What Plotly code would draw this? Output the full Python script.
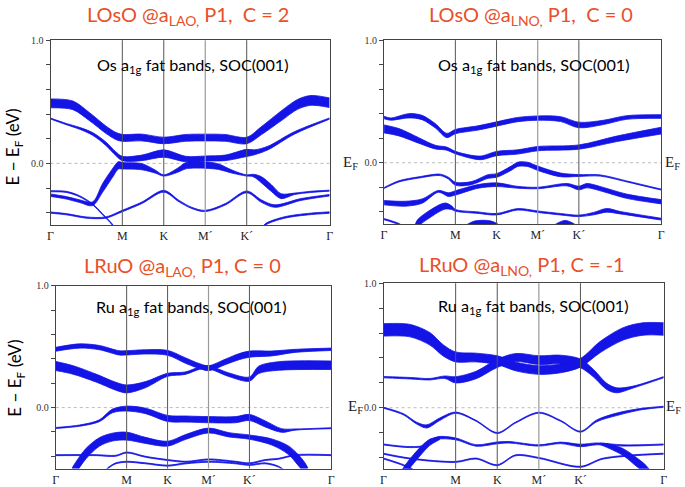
import plotly.graph_objects as go

W, H = 685, 487
BLUE = '#1414E6'
TITLE_RED = '#E8502A'

# ---------------- axes data ----------------
KPTS = [0, 0.866, 1.366, 1.866, 2.366, 3.366]
KLABELS = ['Γ', 'M', 'K', 'M´', 'K´', 'Γ']
YLABEL_VALS = [0.0, 1.0]
YLABEL_TEXT = ['0.0', '1.0']
YMINOR = [-0.4, -0.2, 0.2, 0.4, 0.6, 0.8]

TITLES = ['LOsO @a<sub>LAO,</sub> P1,  C = 2', 'LOsO @a<sub>LNO,</sub> P1,  C = 0',
          'LRuO @a<sub>LAO,</sub> P1, C = 0', 'LRuO @a<sub>LNO,</sub> P1, C = -1']
SUBTITLES = ['Os a<sub>1g</sub> fat bands, SOC(001)', 'Os a<sub>1g</sub> fat bands, SOC(001)',
             'Ru a<sub>1g</sub> fat bands, SOC(001)', 'Ru a<sub>1g</sub> fat bands, SOC(001)']

# ---------------- panel 1 : LOsO @aLAO ----------------
P1_A_K = [0, 0.27, 0.468, 0.667, 0.786, 0.866, 1.103, 1.366, 1.631, 1.866, 2.107, 2.366, 2.544, 2.782, 2.98, 3.139, 3.366]
P1_A_E = [0.487, 0.471, 0.38, 0.274, 0.223, 0.207, 0.21, 0.186, 0.207, 0.21, 0.207, 0.186, 0.266, 0.386, 0.479, 0.511, 0.492]
P1_A_W = [0.072, 0.07, 0.065, 0.06, 0.058, 0.056, 0.055, 0.053, 0.055, 0.055, 0.055, 0.053, 0.065, 0.08, 0.08, 0.08, 0.078]

P1_B_K = [0, 0.19, 0.349, 0.508, 0.667, 0.786, 0.866, 1.103, 1.366, 1.631, 1.866, 2.107, 2.366, 2.46, 2.623, 2.94, 3.366]
P1_B_E = [0.364, 0.319, 0.285, 0.239, 0.16, 0.08, 0.04, 0.045, 0.08, 0.035, 0.04, 0.045, 0.085, 0.09, 0.125, 0.247, 0.364]
P1_B_W = [0.008, 0.01, 0.015, 0.022, 0.028, 0.03, 0.035, 0.045, 0.06, 0.045, 0.04, 0.045, 0.058, 0.04, 0.03, 0.02, 0.01]

P1_C_K = [0, 0.19, 0.349, 0.508, 0.627, 0.746, 0.82, 0.866, 1.103, 1.262, 1.366, 1.54, 1.631, 1.866, 2.028, 2.187, 2.366, 2.444, 2.544, 2.663, 2.782, 2.94, 3.139, 3.366]
P1_C_E = [-0.258, -0.279, -0.306, -0.327, -0.2, -0.08, -0.015, -0.019, -0.027, -0.066, -0.098, -0.053, -0.019, -0.013, -0.027, -0.066, -0.098, -0.098, -0.133, -0.2, -0.266, -0.247, -0.231, -0.221]
P1_C_W = [0.02, 0.02, 0.022, 0.03, 0.07, 0.07, 0.06, 0.053, 0.05, 0.025, 0.01, 0.035, 0.05, 0.053, 0.045, 0.025, 0.01, 0.02, 0.05, 0.055, 0.04, 0.012, 0.01, 0.008]

P1_D_K = [0, 0.19, 0.429, 0.667, 0.866, 1.103, 1.366, 1.55, 1.7, 1.866, 2.107, 2.366, 2.544, 2.702, 3.02, 3.366]
P1_D_E = [-0.399, -0.412, -0.439, -0.439, -0.386, -0.319, -0.226, -0.306, -0.36, -0.386, -0.332, -0.231, -0.306, -0.346, -0.293, -0.258]
P1_D_W = [0.01, 0.01, 0.01, 0.01, 0.012, 0.012, 0.015, 0.012, 0.01, 0.01, 0.012, 0.015, 0.02, 0.02, 0.015, 0.012]

P1_E_K = [0, 0.19, 0.349, 0.508, 0.627, 0.746, 0.8]
P1_E_E = [-0.226, -0.231, -0.266, -0.332, -0.412, -0.497, -0.56]
P1_E_W = 0.009

P1_F_K = [2.52, 2.587, 2.821, 3.1, 3.366]
P1_F_E = [-0.56, -0.497, -0.439, -0.412, -0.399]
P1_F_W = 0.012

# ---------------- panel 2 : LOsO @aLNO ----------------
P2_A_K = [0, 0.08, 0.301, 0.461, 0.621, 0.762, 0.866, 1.142, 1.366, 1.623, 1.866, 2.144, 2.366, 2.665, 2.946, 3.366]
P2_A_E = [0.369, 0.356, 0.383, 0.369, 0.302, 0.222, 0.254, 0.284, 0.316, 0.352, 0.364, 0.356, 0.308, 0.329, 0.369, 0.377]
P2_A_W = [0.02, 0.018, 0.035, 0.035, 0.035, 0.035, 0.035, 0.035, 0.035, 0.035, 0.035, 0.04, 0.045, 0.035, 0.03, 0.03]

P2_B_K = [0, 0.18, 0.421, 0.621, 0.762, 0.866, 1.062, 1.182, 1.366, 1.623, 1.866, 2.366, 2.826, 3.366]
P2_B_E = [0.276, 0.249, 0.182, 0.128, 0.115, 0.083, 0.048, 0.04, 0.075, 0.088, 0.115, 0.128, 0.195, 0.262]
P2_B_W = [0.065, 0.06, 0.045, 0.03, 0.025, 0.02, 0.025, 0.03, 0.035, 0.035, 0.035, 0.035, 0.045, 0.055]

P2_C_K = [0, 0.18, 0.421, 0.681, 0.782, 0.866, 1.062, 1.263, 1.366, 1.543, 1.623, 1.743, 1.866, 2.144, 2.366, 2.625, 2.946, 3.366]
P2_C_E = [-0.206, -0.152, -0.12, -0.099, -0.126, -0.171, -0.166, -0.112, -0.104, -0.045, -0.013, -0.013, -0.045, -0.099, -0.104, -0.104, -0.152, -0.219]
P2_C_W = [0.008, 0.01, 0.01, 0.012, 0.015, 0.025, 0.025, 0.03, 0.03, 0.035, 0.035, 0.035, 0.035, 0.03, 0.015, 0.01, 0.008, 0.008]

P2_D_K = [0, 0.26, 0.461, 0.661, 0.782, 0.866, 1.142, 1.366, 1.623, 1.866, 2.224, 2.366, 2.465, 2.665, 2.946, 3.366]
P2_D_E = [-0.326, -0.334, -0.313, -0.233, -0.26, -0.246, -0.193, -0.179, -0.2, -0.206, -0.179, -0.206, -0.187, -0.219, -0.273, -0.318]
P2_D_W = [0.035, 0.04, 0.035, 0.015, 0.03, 0.035, 0.03, 0.03, 0.015, 0.012, 0.02, 0.03, 0.035, 0.035, 0.035, 0.035]

P2_E_K = [0.37, 0.401, 0.581, 0.741, 0.822, 0.866, 1.142, 1.366, 1.623, 1.866, 2.144, 2.366, 2.545, 2.705, 2.866, 3.366]
P2_E_E = [-0.56, -0.5, -0.407, -0.353, -0.367, -0.388, -0.407, -0.42, -0.38, -0.399, -0.42, -0.433, -0.415, -0.388, -0.407, -0.46]
P2_E_W = [0.06, 0.06, 0.06, 0.05, 0.03, 0.015, 0.012, 0.012, 0.012, 0.012, 0.012, 0.012, 0.02, 0.03, 0.02, 0.015]

P2_F_K = [0, 0.18, 0.25]
P2_F_E = [-0.46, -0.5, -0.53]
P2_F_W = 0.01

P2_G_K = [0.98, 1.1, 1.3, 1.42]
P2_G_E = [-0.53, -0.49, -0.49, -0.53]
P2_G_W = 0.03

P2_H_K = [2.05, 2.2, 2.35]
P2_H_E = [-0.53, -0.485, -0.53]
P2_H_W = 0.03

# ---------------- panel 3 : LRuO @aLAO ----------------
P3_A_K = [0, 0.29, 0.532, 0.774, 0.866, 1.096, 1.366, 1.59, 1.753, 1.866, 2.076, 2.237, 2.366, 2.64, 2.922, 3.366]
P3_A_E = [0.478, 0.505, 0.492, 0.449, 0.449, 0.457, 0.449, 0.384, 0.341, 0.323, 0.376, 0.417, 0.438, 0.444, 0.465, 0.478]
P3_A_W = [0.032, 0.035, 0.035, 0.035, 0.035, 0.035, 0.04, 0.045, 0.04, 0.04, 0.045, 0.05, 0.05, 0.04, 0.025, 0.02]

P3_B_K = [0, 0.21, 0.492, 0.734, 0.866, 1.096, 1.366, 1.58, 1.753, 1.866, 2.116, 2.366, 2.479, 2.72, 3.366]
P3_B_E = [0.341, 0.309, 0.242, 0.175, 0.153, 0.188, 0.269, 0.282, 0.323, 0.331, 0.269, 0.234, 0.309, 0.341, 0.347]
P3_B_W = [0.075, 0.07, 0.065, 0.065, 0.065, 0.05, 0.025, 0.02, 0.02, 0.025, 0.03, 0.035, 0.06, 0.07, 0.07]

P3_C_K = [0, 0.29, 0.532, 0.693, 0.866, 1.096, 1.366, 1.592, 1.866, 2.197, 2.366, 2.559, 2.76, 2.922, 3.366]
P3_C_E = [-0.167, -0.148, -0.108, -0.027, -0.008, -0.027, -0.089, -0.094, -0.099, -0.099, -0.081, -0.134, -0.188, -0.18, -0.169]
P3_C_W = [0.008, 0.01, 0.015, 0.03, 0.04, 0.045, 0.05, 0.05, 0.05, 0.05, 0.05, 0.05, 0.03, 0.01, 0.008]

P3_D_K = [0.2, 0.24, 0.371, 0.532, 0.693, 0.866, 1.096, 1.366, 1.59, 1.866, 2.116, 2.366, 2.64, 2.842, 2.962, 3.043, 3.08]
P3_D_E = [-0.54, -0.497, -0.376, -0.282, -0.242, -0.234, -0.269, -0.296, -0.24, -0.188, -0.223, -0.242, -0.282, -0.349, -0.43, -0.497, -0.54]
P3_D_W = [0.09, 0.09, 0.085, 0.07, 0.065, 0.065, 0.05, 0.04, 0.04, 0.04, 0.035, 0.035, 0.05, 0.07, 0.09, 0.09, 0.09]

P3_E_K = [0, 0.5, 0.734, 0.866, 1.096, 1.366, 1.592, 1.866, 2.197, 2.366, 2.559, 2.72, 2.922, 3.366]
P3_E_E = [-0.39, -0.39, -0.395, -0.368, -0.403, -0.43, -0.444, -0.425, -0.444, -0.457, -0.43, -0.42, -0.39, -0.39]
P3_E_W = 0.008

P3_F_K = [0.6, 0.65, 0.734, 0.866, 1.096, 1.366, 1.592, 1.866, 2.197, 2.366, 2.559, 2.72, 2.8]
P3_F_E = [-0.52, -0.49, -0.457, -0.444, -0.457, -0.476, -0.457, -0.444, -0.457, -0.47, -0.457, -0.484, -0.52]
P3_F_W = 0.008

# ---------------- panel 4 : LRuO @aLNO ----------------
P4_A_K = [0, 0.319, 0.557, 0.715, 0.866, 1.112, 1.366, 1.6, 1.866, 2.127, 2.366, 2.602, 2.879, 3.117, 3.366]
P4_A_E = [0.625, 0.619, 0.553, 0.461, 0.408, 0.403, 0.382, 0.329, 0.303, 0.316, 0.361, 0.487, 0.593, 0.632, 0.632]
P4_A_W = [0.1, 0.1, 0.1, 0.09, 0.08, 0.07, 0.07, 0.07, 0.07, 0.07, 0.07, 0.09, 0.1, 0.1, 0.1]

P4_B_K = [0, 0.319, 0.557, 0.735, 0.866, 1.112, 1.366, 1.587, 1.866, 2.127, 2.366, 2.523, 2.682, 2.801, 3.0, 3.366]
P4_B_E = [0.245, 0.237, 0.229, 0.245, 0.224, 0.263, 0.356, 0.403, 0.382, 0.387, 0.356, 0.277, 0.171, 0.14, 0.166, 0.245]
P4_B_W = [0.01, 0.012, 0.012, 0.02, 0.05, 0.06, 0.065, 0.065, 0.07, 0.07, 0.07, 0.06, 0.05, 0.04, 0.015, 0.01]

P4_C_K = [0, 0.24, 0.399, 0.517, 0.676, 0.866, 1.112, 1.366, 1.587, 1.866, 2.127, 2.366, 2.562, 2.801, 3.078, 3.366]
P4_C_E = [0.0, -0.053, -0.124, -0.15, -0.092, -0.04, -0.105, -0.203, -0.119, -0.04, -0.105, -0.192, -0.105, -0.053, -0.013, 0.008]
P4_C_W = [0.008, 0.01, 0.015, 0.025, 0.02, 0.01, 0.008, 0.008, 0.008, 0.008, 0.008, 0.008, 0.015, 0.02, 0.012, 0.008]

P4_D_K = [0, 0.319, 0.517, 0.636, 0.866, 1.112, 1.366, 1.508, 1.866, 2.127, 2.366, 2.562, 2.879, 3.366]
P4_D_E = [-0.295, -0.316, -0.303, -0.245, -0.25, -0.303, -0.282, -0.277, -0.303, -0.282, -0.303, -0.29, -0.303, -0.295]
P4_D_W = [0.008, 0.008, 0.01, 0.02, 0.015, 0.012, 0.015, 0.012, 0.01, 0.012, 0.02, 0.015, 0.01, 0.008]

P4_E_K = [0, 0.319, 0.866, 1.112, 1.366, 1.587, 1.866, 2.366, 2.642, 3.366]
P4_E_E = [-0.369, -0.408, -0.435, -0.408, -0.461, -0.382, -0.403, -0.474, -0.408, -0.369]
P4_E_W = 0.008

P4_F_K = [0.2, 0.24, 0.399, 0.557, 0.676]
P4_F_E = [-0.56, -0.514, -0.382, -0.277, -0.245]
P4_F_W = [0.07, 0.07, 0.07, 0.05, 0.02]

P4_G_K = [2.6, 2.682, 2.879, 3.038, 3.157, 3.2]
P4_G_E = [-0.29, -0.303, -0.356, -0.435, -0.5, -0.54]
P4_G_W = [0.01, 0.03, 0.055, 0.07, 0.07, 0.07]

P4_H_K = [0, 0.24, 0.36, 0.4]
P4_H_E = [-0.408, -0.461, -0.5, -0.53]
P4_H_W = 0.008

PANEL_BANDS = [
    [(P1_A_K, P1_A_E, P1_A_W), (P1_B_K, P1_B_E, P1_B_W), (P1_C_K, P1_C_E, P1_C_W),
     (P1_D_K, P1_D_E, P1_D_W), (P1_E_K, P1_E_E, P1_E_W), (P1_F_K, P1_F_E, P1_F_W)],
    [(P2_A_K, P2_A_E, P2_A_W), (P2_B_K, P2_B_E, P2_B_W), (P2_C_K, P2_C_E, P2_C_W),
     (P2_D_K, P2_D_E, P2_D_W), (P2_E_K, P2_E_E, P2_E_W), (P2_F_K, P2_F_E, P2_F_W),
     (P2_G_K, P2_G_E, P2_G_W), (P2_H_K, P2_H_E, P2_H_W)],
    [(P3_A_K, P3_A_E, P3_A_W), (P3_B_K, P3_B_E, P3_B_W), (P3_C_K, P3_C_E, P3_C_W),
     (P3_D_K, P3_D_E, P3_D_W), (P3_E_K, P3_E_E, P3_E_W), (P3_F_K, P3_F_E, P3_F_W)],
    [(P4_A_K, P4_A_E, P4_A_W), (P4_B_K, P4_B_E, P4_B_W), (P4_C_K, P4_C_E, P4_C_W),
     (P4_D_K, P4_D_E, P4_D_W), (P4_E_K, P4_E_E, P4_E_W), (P4_F_K, P4_F_E, P4_F_W),
     (P4_G_K, P4_G_E, P4_G_W), (P4_H_K, P4_H_E, P4_H_W)],
]

# panel geometry in pixels (left, right, top, bottom) and y ranges
PANEL_PX = [(48, 330, 34.7, 222.7), (385, 665, 34.7, 221.7),
            (53.3, 331.7, 284.3, 470.3), (384.5, 667.5, 281.8, 470.5)]
YRANGES = [(-0.5, 1.0), (-0.5, 1.0), (-0.5, 1.0), (-0.49, 1.0)]

fig = go.Figure()

for i, bands in enumerate(PANEL_BANDS):
    xa = 'x' if i == 0 else 'x%d' % (i + 1)
    ya = 'y' if i == 0 else 'y%d' % (i + 1)
    for k, e, w in bands:
        ws = w if isinstance(w, list) else [w] * len(k)
        up = [a + b / 2 for a, b in zip(e, ws)]
        lo = [a - b / 2 for a, b in zip(e, ws)]
        ln = dict(color=BLUE, width=0.8, shape='spline', smoothing=0.9)
        fig.add_trace(go.Scatter(x=k, y=up, mode='lines', line=ln, xaxis=xa, yaxis=ya,
                                 hoverinfo='skip', showlegend=False))
        fig.add_trace(go.Scatter(x=k, y=lo, mode='lines', line=ln, fill='tonexty',
                                 fillcolor=BLUE, xaxis=xa, yaxis=ya,
                                 hoverinfo='skip', showlegend=False))

layout = dict(width=W, height=H, margin=dict(l=0, r=0, t=0, b=0),
              paper_bgcolor='white', plot_bgcolor='white', showlegend=False)
shapes = []
annotations = []
for i, (l, r, t, b) in enumerate(PANEL_PX):
    sx = '' if i == 0 else str(i + 1)
    layout['xaxis' + sx] = dict(domain=[l / W, r / W], range=[0, 3.366], anchor='y' + sx,
                                tickvals=KPTS, ticktext=KLABELS, ticks='', showgrid=False,
                                zeroline=False, showline=True, mirror=True, linecolor='#444',
                                linewidth=1, tickfont=dict(family='Liberation Serif', size=12, color='#222'))
    layout['yaxis' + sx] = dict(domain=[1 - b / H, 1 - t / H], range=list(YRANGES[i]), anchor='x' + sx,
                                tickvals=YLABEL_VALS, ticktext=YLABEL_TEXT, ticks='outside', ticklen=4,
                                tickcolor='#444', showgrid=False, zeroline=False, showline=True,
                                mirror=True, linecolor='#444', linewidth=1,
                                minor=dict(tickvals=YMINOR, ticks='outside', ticklen=4, tickcolor='#444',
                                           showgrid=False),
                                tickfont=dict(family='Liberation Serif', size=10, color='#333'))
    xref = 'x' + sx
    yd = ('y' + sx) + ' domain'
    for j, kv in enumerate(KPTS[1:-1]):
        col = '#9a9a9a' if KLABELS[j + 1] == 'M´' else '#555'
        shapes.append(dict(type='line', xref=xref, yref=yd, x0=kv, x1=kv, y0=0, y1=1,
                           line=dict(color=col, width=1.2 if col == '#9a9a9a' else 1)))
    shapes.append(dict(type='line', xref=xref, yref='y' + sx, x0=0, x1=3.366, y0=0, y1=0,
                       line=dict(color='#aaaaaa', width=0.8, dash='dot'), layer='below'))

# titles
TITLE_POS = [(83, 10), (428, 10), (80, 265), (418, 264)]
SUB_POS = [(93, 60), (437, 60), (92, 307), (437, 306)]
for i in range(4):
    annotations.append(dict(text=TITLES[i], x=TITLE_POS[i][0] / W, y=1 - TITLE_POS[i][1] / H,
                            xref='paper', yref='paper', xanchor='left', yanchor='middle',
                            showarrow=False, font=dict(family='Lato', size=20, color=TITLE_RED)))
    annotations.append(dict(text=SUBTITLES[i], x=SUB_POS[i][0] / W, y=1 - SUB_POS[i][1] / H,
                            xref='paper', yref='paper', xanchor='left', yanchor='middle',
                            showarrow=False, font=dict(family='Lato', size=16.2, color='black')))

for (xp, yp) in [(11, 143), (13, 378)]:
    annotations.append(dict(text='E − E<sub>F</sub> (eV)', x=xp / W, y=1 - yp / H, xref='paper',
                            yref='paper', textangle=-90, showarrow=False, xanchor='center',
                            yanchor='middle', font=dict(family='Lato', size=17, color='black')))

for (xp, yp, anc) in [(361, 160, 'right'), (667, 160, 'left'), (366, 408, 'right'), (668, 408, 'left')]:
    annotations.append(dict(text='E<sub>F</sub>', x=xp / W, y=1 - yp / H, xref='paper', yref='paper',
                            xanchor=anc, yanchor='middle', showarrow=False,
                            font=dict(family='Liberation Serif', size=15, color='#222')))

layout['shapes'] = shapes
layout['annotations'] = annotations
fig.update_layout(**layout)
fig.write_html('out.html', config={'displayModeBar': False},
               post_script="document.body.style.margin='0';document.body.style.padding='0';document.body.style.overflow='hidden';")
